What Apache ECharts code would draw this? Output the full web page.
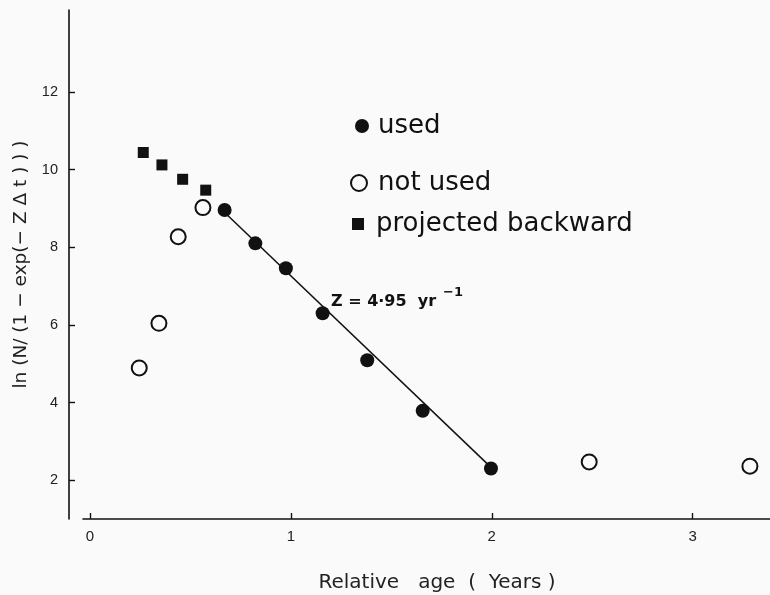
<!DOCTYPE html>
<html>
<head>
<meta charset="utf-8">
<script src="https://cdn.jsdelivr.net/npm/echarts@6/dist/echarts.min.js"></script>
<style>html,body{margin:0;padding:0;background:#fafafa;}#c{width:770px;height:595px;}</style>
</head>
<body>
<div id="c"></div>
<script>
// Data
var usedX = [0.670, 0.823, 0.975, 1.158, 1.380, 1.656, 1.996];
var usedY = [8.96, 8.10, 7.46, 6.30, 5.09, 3.79, 2.30];
var notUsedX = [0.245, 0.343, 0.439, 0.562, 2.485, 3.285];
var notUsedY = [4.89, 6.04, 8.27, 9.02, 2.47, 2.36];
var projX = [0.265, 0.358, 0.461, 0.576];
var projY = [10.44, 10.12, 9.75, 9.47];
var fitX = [0.665, 2.0];
var fitY = [8.92, 2.31];
var xTicks = [0, 1, 2, 3];
var yTicks = [2, 4, 6, 8, 10, 12];

function zip(a, b) { return a.map(function (v, i) { return [v, b[i]]; }); }

var ink = '#111';
var bg = '#fafafa';
var legendText = { fontSize: 26, lineHeight: 26, color: ink, fontFamily: 'DejaVu Sans, sans-serif' };
var chart = echarts.init(document.getElementById('c'));
chart.setOption({
  backgroundColor: bg,
  animation: false,
  grid: { left: 83, right: 0, top: 10, bottom: 76, containLabel: false, outerBoundsMode: 'none' },
  xAxis: {
    type: 'value', min: -0.035, max: 3.385,
    splitLine: { show: false },
    axisLine: { onZero: false, lineStyle: { color: ink, width: 1.6 } },
    axisTick: { inside: true, length: 6, customValues: xTicks, lineStyle: { color: ink, width: 1.4 } },
    axisLabel: { customValues: xTicks, margin: 10, color: '#222', fontSize: 15, fontFamily: 'Liberation Sans Narrow, Liberation Sans, sans-serif' },
    name: 'Relative   age  (  Years )', nameLocation: 'middle', nameGap: 54,
    nameTextStyle: { color: '#222', fontSize: 20, fontFamily: 'DejaVu Sans, sans-serif', padding: [0, 0, 0, 21] }
  },
  yAxis: {
    type: 'value', min: 1, max: 14.11, offset: 14,
    splitLine: { show: false },
    axisLine: { show: true, onZero: false, lineStyle: { color: ink, width: 1.6 } },
    axisTick: { show: true, inside: true, length: 6, customValues: yTicks, lineStyle: { color: ink, width: 1.4 } },
    axisLabel: { customValues: yTicks, margin: 11, color: '#222', fontSize: 14.5, fontFamily: 'Liberation Sans Narrow, Liberation Sans, sans-serif' },
    name: 'ln (N/ (1 − exp(− Z Δ t ) ) )', nameLocation: 'middle', nameGap: 37, nameRotate: 90,
    nameTextStyle: { color: '#222', fontSize: 18.5, fontFamily: 'DejaVu Sans, sans-serif' }
  },
  legend: [
    { data: ['used'], orient: 'vertical', left: 355, top: 113, padding: 0, itemWidth: 14, itemHeight: 14,
      textStyle: Object.assign({ padding: [0, 0, 0, 4] }, legendText),
      itemStyle: { color: ink, borderWidth: 0 } },
    { data: ['not used'], orient: 'vertical', left: 350, top: 170, padding: 0, itemWidth: 16, itemHeight: 16,
      textStyle: Object.assign({ padding: [0, 0, 0, 6] }, legendText),
      itemStyle: { color: bg, borderColor: ink, borderWidth: 2 } },
    { data: ['projected backward'], orient: 'vertical', left: 352, top: 211, padding: 0, itemWidth: 12, itemHeight: 12,
      textStyle: Object.assign({ padding: [0, 0, 0, 7] }, legendText),
      itemStyle: { color: ink, borderWidth: 0 } }
  ],
  series: [
    { name: 'fit', type: 'line', data: zip(fitX, fitY), symbol: 'none', z: 1,
      lineStyle: { color: ink, width: 1.5 } },
    { name: 'used', type: 'scatter', data: zip(usedX, usedY), symbol: 'circle', symbolSize: 14, z: 3,
      itemStyle: { color: ink, opacity: 1 } },
    { name: 'not used', type: 'scatter', data: zip(notUsedX, notUsedY), symbol: 'circle', symbolSize: 15, z: 3,
      itemStyle: { color: bg, borderColor: ink, borderWidth: 2, opacity: 1 } },
    { name: 'projected backward', type: 'scatter', data: zip(projX, projY), symbol: 'rect', symbolSize: 11, z: 3,
      itemStyle: { color: ink, opacity: 1 } }
  ],
  graphic: [
    { type: 'text', left: 331, top: 294, style: { text: 'Z = 4·95  yr', fontSize: 16, fontWeight: 'bold', fill: ink, fontFamily: 'DejaVu Sans, sans-serif' } },
    { type: 'text', left: 443, top: 286, style: { text: '−1', fontSize: 13, fontWeight: 'bold', fill: ink, fontFamily: 'DejaVu Sans, sans-serif' } }
  ]
});
</script>
</body>
</html>
